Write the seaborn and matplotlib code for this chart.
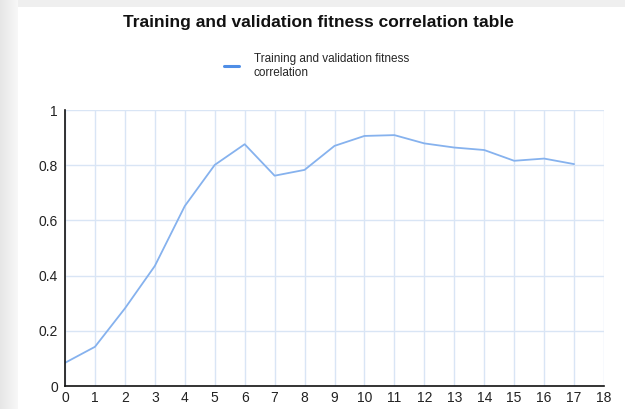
import matplotlib
matplotlib.use("Agg")
import matplotlib.pyplot as plt
from matplotlib.lines import Line2D
from matplotlib.patches import Rectangle
from matplotlib import font_manager
import numpy as np
import pandas as pd
import seaborn as sns

# Fitness correlation per generation
generations = list(range(18))
correlation = [0.084, 0.142, 0.281, 0.435, 0.652, 0.801, 0.876, 0.762, 0.783,
               0.870, 0.906, 0.909, 0.879, 0.864, 0.855, 0.816, 0.824, 0.804]
series_label = "Training and validation fitness\ncorrelation"
chart_title = "Training and validation fitness correlation table"
x_ticks = list(range(19))
y_ticks = [0, 0.2, 0.4, 0.6, 0.8, 1]
y_tick_labels = ["0", "0.2", "0.4", "0.6", "0.8", "1"]

df = pd.DataFrame({"generation": generations, "correlation": correlation})

sns.set_theme(style="white")
names = {f.name for f in font_manager.fontManager.ttflist}
narrow = "Liberation Sans Narrow" if "Liberation Sans Narrow" in names else "Liberation Sans"
plt.rcParams["font.family"] = ["Liberation Sans", "DejaVu Sans"]

W, H = 625, 409
fig = plt.figure(figsize=(W / 100, H / 100), dpi=100)
fig.patch.set_facecolor("#efefef")

# soft grey frame on the left and top, white card behind the chart
grad = np.linspace(0.90, 0.97, 64).reshape(1, -1)
bg = fig.add_axes([0, 0, 18 / W, 1], zorder=-3)
bg.imshow(grad, aspect="auto", cmap="gray", vmin=0, vmax=1, extent=[0, 1, 0, 1])
bg.axis("off")
fig.patches.append(Rectangle((18 / W, 0), 1 - 18 / W, 1 - 7 / H, transform=fig.transFigure,
                             facecolor="white", edgecolor="none", zorder=-2))

left, right, top, bottom = 65, 604, 110, 386
ax = fig.add_axes([left / W, (H - bottom) / H, (right - left) / W, (bottom - top) / H])
ax.set_facecolor("none")

sns.lineplot(data=df, x="generation", y="correlation", ax=ax, color="#86b2ee",
             linewidth=1.3, legend=False)

ax.set_xlim(0, 18)
ax.set_ylim(0, 1)
ax.set_xticks(x_ticks)
ax.set_xticklabels([str(t) for t in x_ticks])
ax.set_yticks(y_ticks)
ax.set_yticklabels(y_tick_labels)
ax.set_xlabel("")
ax.set_ylabel("")

ax.grid(True, color="#d9e5f5", linewidth=1.0)
ax.set_axisbelow(True)
for side in ("top", "right"):
    ax.spines[side].set_visible(False)
for side in ("left", "bottom"):
    ax.spines[side].set_color("#111111")
    ax.spines[side].set_linewidth(1.2)
ax.tick_params(axis="both", direction="inout", length=6, width=1, color="#111111",
               labelsize=10, labelcolor="#222222", pad=2)
ax.tick_params(axis="x", pad=0.5)

# title and legend
fig.text(318 / W, 1 - 22 / H, chart_title, ha="center", va="center",
         fontsize=12.5, fontweight="bold", family=[narrow, "DejaVu Sans"], color="#111111")

handle = Line2D([], [], color="#4f8ee6", linewidth=2.2)
ax.legend([handle], [series_label], loc="upper left",
          bbox_to_anchor=(224 / W, 1 - 53 / H), bbox_transform=fig.transFigure,
          frameon=False, borderpad=0, borderaxespad=0, handlelength=1.3,
          handletextpad=1.2, labelspacing=0,
          prop={"family": narrow, "size": 8.5})

fig.savefig("out.png", dpi=100, facecolor=fig.get_facecolor())
